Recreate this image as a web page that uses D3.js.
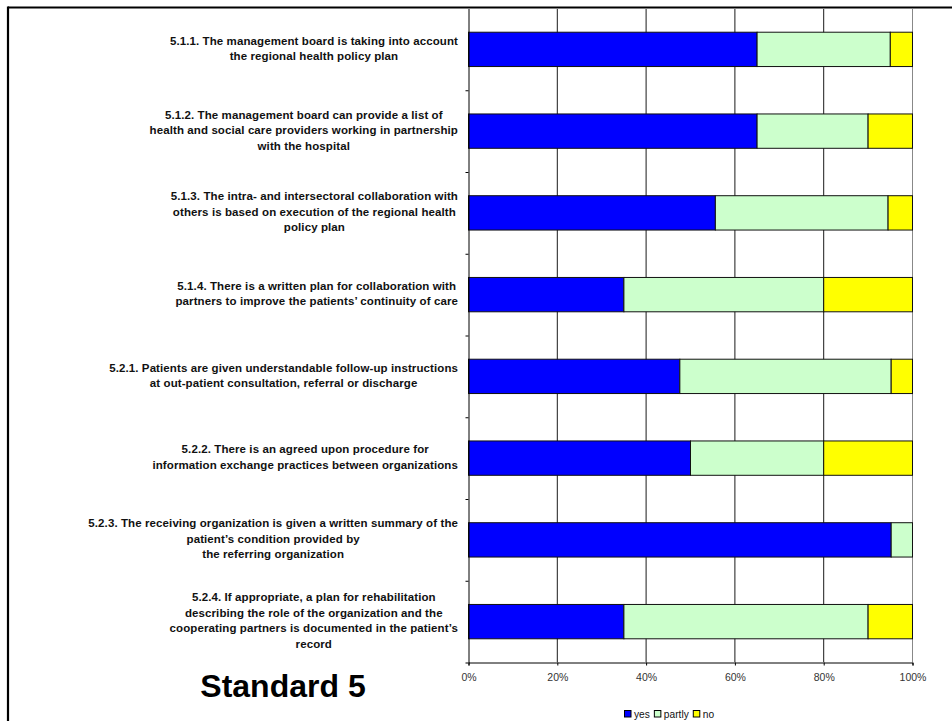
<!DOCTYPE html>
<html>
<head>
<meta charset="utf-8">
<script src="https://cdn.jsdelivr.net/npm/d3@7/dist/d3.min.js"></script>
<style>
  html, body { margin: 0; padding: 0; background: #fff; }
  svg { display: block; }
  text { font-family: Arial, "Liberation Sans", sans-serif; }
</style>
</head>
<body>
<svg id="chart" width="952" height="721"></svg>
<script>
// Criteria of Standard 5, each split into the lines shown beside its bar
const categories = [
  ["5.1.1. The management board is taking into account", "the regional health policy plan"],
  ["5.1.2. The management board can provide a list of", "health and social care providers working in partnership", "with the hospital"],
  ["5.1.3. The intra- and intersectoral collaboration with", "others is based on execution of the regional health", "policy plan"],
  ["5.1.4. There is a written plan for collaboration with", "partners to improve the patients\u2019 continuity of care"],
  ["5.2.1. Patients are given understandable follow-up instructions", "at out-patient consultation, referral or discharge"],
  ["5.2.2. There is an agreed upon procedure for", "information exchange practices between organizations"],
  ["5.2.3. The receiving organization is given a written summary of the", "patient\u2019s condition provided by", "the referring organization"],
  ["5.2.4. If appropriate, a plan for rehabilitation", "describing the role of the organization and the", "cooperating partners is documented in the patient\u2019s", "record"]
];

// Share of answers per criterion (percent)
const yesValues    = [65, 65, 55.6, 35, 47.6, 50, 95.2, 35];
const partlyValues = [30, 25, 38.9, 45, 47.6, 30, 4.8, 55];
const noValues     = [5, 10, 5.5, 20, 4.8, 20, 0, 10];

const seriesNames = ["yes", "partly", "no"];
const seriesColors = ["#0000ff", "#ccffcc", "#ffff00"];
const xTicks = [0, 20, 40, 60, 80, 100];
const chartTitle = "Standard 5";

const svg = d3.select("#chart");
const plot = { left: 468, right: 912, top: 8, bottom: 662 };

const rows = categories.map((lines, i) => ({
  key: i, lines, yes: yesValues[i], partly: partlyValues[i], no: noValues[i]
}));

const x = d3.scaleLinear().domain([0, 100]).range([plot.left, plot.right]);
const y = d3.scaleBand().domain(rows.map(d => d.key))
  .range([plot.top, plot.bottom]).paddingInner(0.58).paddingOuter(0.29);
const slot = d3.scaleLinear().domain([0, categories.length]).range([plot.top, plot.bottom]);
const color = d3.scaleOrdinal().domain(seriesNames).range(seriesColors);

// Outer frame (top and left edges)
svg.append("line").attr("x1", 8).attr("x2", 952).attr("y1", 7.5).attr("y2", 7.5)
  .attr("stroke", "#000").attr("stroke-width", 2.2);
svg.append("line").attr("x1", 8).attr("x2", 8).attr("y1", 6.5).attr("y2", 721)
  .attr("stroke", "#000").attr("stroke-width", 2.2);

// Vertical gridlines
svg.append("g").selectAll("line").data(xTicks.filter(t => t > 0 && t < 100)).join("line")
  .attr("x1", d => x(d) + 0.5).attr("x2", d => x(d) + 0.5)
  .attr("y1", plot.top + 1).attr("y2", plot.bottom)
  .attr("stroke", "#1a1a1a").attr("stroke-width", 1);
svg.append("line")
  .attr("x1", x(100) + 0.5).attr("x2", x(100) + 0.5)
  .attr("y1", plot.top + 1).attr("y2", plot.bottom)
  .attr("stroke", "#888").attr("stroke-width", 1);

// Stacked bars
const stack = d3.stack().keys(seriesNames);
const layers = stack(rows);
svg.append("g").selectAll("g").data(layers).join("g")
  .attr("fill", d => color(d.key))
  .selectAll("rect").data(d => d.filter(s => s[1] - s[0] > 0)).join("rect")
  .attr("x", d => x(d[0]) + 0.5)
  .attr("y", d => y(d.data.key) + 0.5)
  .attr("width", d => x(d[1]) - x(d[0]))
  .attr("height", y.bandwidth())
  .attr("stroke", "#111").attr("stroke-width", 1);

// Value axis
const xAxis = svg.append("g")
  .attr("transform", `translate(0.5,${plot.bottom + 0.5})`)
  .call(d3.axisBottom(x).tickValues(xTicks).tickFormat(d => d + "%").tickSize(3).tickPadding(8));
xAxis.select(".domain").attr("stroke", "#000");
xAxis.selectAll(".tick line").attr("stroke", "#000");
xAxis.selectAll("text").attr("font-size", 10.5).attr("fill", "#333")
  .style("font-family", "Arial, 'Liberation Sans', sans-serif");

// Category axis: ticks on slot boundaries
const yAxis = svg.append("g")
  .attr("transform", `translate(${plot.left + 0.5},0.5)`)
  .call(d3.axisLeft(slot).tickValues(d3.range(1, categories.length + 1)).tickFormat("").tickSize(3).tickSizeOuter(0));
yAxis.select(".domain").attr("stroke", "#000");
yAxis.selectAll(".tick line").attr("stroke", "#000");

// Category labels: each block right-aligned, its lines centred within the block
const lineH = 15.6;
const labelRight = 458;
const labelG = svg.append("g");
rows.forEach(d => {
  const cy = y(d.key) + y.bandwidth() / 2;
  const t = labelG.append("text")
    .attr("font-size", 11.5).attr("font-weight", "bold").attr("fill", "#111")
    .attr("letter-spacing", 0.1)
    .attr("text-anchor", "middle");
  const n = d.lines.length;
  d.lines.forEach((ln, j) => {
    t.append("tspan").attr("x", 0)
      .attr("y", cy + (j - (n - 1) / 2) * lineH + 3.5)
      .text(ln);
  });
  let maxW = 0;
  t.selectAll("tspan").each(function () { maxW = Math.max(maxW, this.getComputedTextLength()); });
  t.selectAll("tspan").attr("x", labelRight - maxW / 2);
});

// Title
svg.append("text").attr("x", 283).attr("y", 697)
  .attr("text-anchor", "middle").attr("font-size", 32).attr("font-weight", "bold")
  .attr("fill", "#000").text(chartTitle);

// Legend
const legend = svg.append("g").attr("font-size", 10.2).attr("fill", "#111");
let lx = 624;
seriesNames.forEach(name => {
  legend.append("rect").attr("x", lx + 0.5).attr("y", 710.5).attr("width", 6.5).attr("height", 6.5)
    .attr("fill", color(name)).attr("stroke", "#000").attr("stroke-width", 1);
  const tx = legend.append("text").attr("x", lx + 10).attr("y", 717.5).text(name);
  lx += 10 + tx.node().getComputedTextLength() + 4;
});
</script>
</body>
</html>
